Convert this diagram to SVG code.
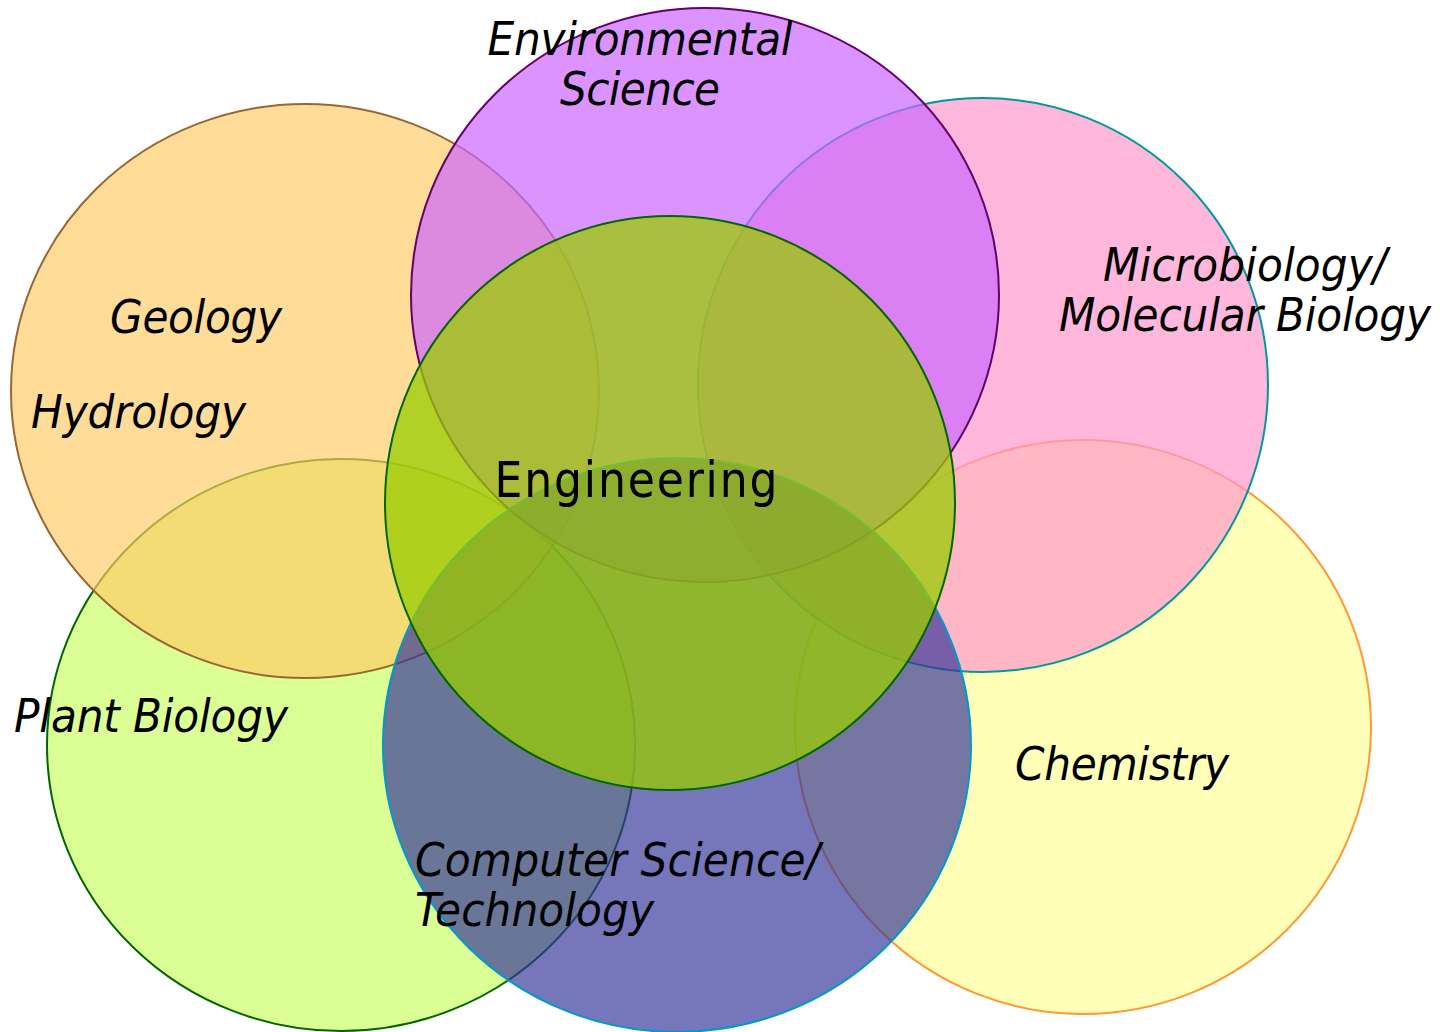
<svg xmlns="http://www.w3.org/2000/svg" width="1449" height="1032" viewBox="0 0 1449 1032">
  <style>
    .set { stroke-width: 2; }
    .lbl { font-family: "DejaVu Sans Condensed", "DejaVu Sans", sans-serif; font-stretch: condensed; font-style: italic; font-size: 47px; fill: #000; }
    .core { font-family: "DejaVu Sans Condensed", "DejaVu Sans", sans-serif; font-stretch: condensed; font-size: 49px; fill: #000; }
  </style>
  <rect width="1449" height="1032" fill="#ffffff"/>

  <!-- overlapping subject areas, back to front -->
  <g id="plant-biology">
    <ellipse class="set" cx="341" cy="745" rx="294" ry="286" fill="#CCFF66" fill-opacity="0.7" stroke="#006600"/>
  </g>
  <g id="geology-hydrology">
    <ellipse class="set" cx="305" cy="391" rx="294" ry="287" fill="#FFCC66" fill-opacity="0.68" stroke="#996633"/>
  </g>
  <g id="chemistry">
    <ellipse class="set" cx="1083" cy="727" rx="288" ry="287" fill="#FFFF99" fill-opacity="0.7" stroke="#FF9933"/>
  </g>
  <g id="microbiology">
    <ellipse class="set" cx="983" cy="385" rx="285" ry="287" fill="#FF99CC" fill-opacity="0.7" stroke="#009999"/>
  </g>
  <g id="environmental-science">
    <ellipse class="set" cx="705" cy="295" rx="294" ry="287" fill="#CC66FF" fill-opacity="0.7" stroke="#660066"/>
  </g>
  <g id="computer-science">
    <ellipse class="set" cx="677" cy="745" rx="294" ry="287" fill="#333399" fill-opacity="0.67" stroke="#0099CC"/>
  </g>
  <g id="engineering">
    <ellipse class="set" cx="670" cy="503" rx="285" ry="287" fill="#99CC00" fill-opacity="0.75" stroke="#006600"/>
  </g>

  <g id="connectors"/>

  <!-- labels -->
  <g id="labels">
    <text class="lbl" x="640" y="55" text-anchor="middle" textLength="305" lengthAdjust="spacing">Environmental</text>
    <text class="lbl" x="640" y="105" text-anchor="middle" textLength="160" lengthAdjust="spacing">Science</text>
    <text class="lbl" x="110" y="333" textLength="172" lengthAdjust="spacing">Geology</text>
    <text class="lbl" x="31" y="428" textLength="215" lengthAdjust="spacing">Hydrology</text>
    <text class="lbl" x="1245" y="281" text-anchor="middle" textLength="284" lengthAdjust="spacing">Microbiology/</text>
    <text class="lbl" x="1245" y="331" text-anchor="middle" textLength="372" lengthAdjust="spacing">Molecular Biology</text>
    <text class="core" x="636" y="497" text-anchor="middle" textLength="283" lengthAdjust="spacing">Engineering</text>
    <text class="lbl" x="14" y="732" textLength="274" lengthAdjust="spacing">Plant Biology</text>
    <text class="lbl" x="1015" y="780" textLength="214" lengthAdjust="spacing">Chemistry</text>
    <text class="lbl" x="415" y="876" textLength="405" lengthAdjust="spacing">Computer Science/</text>
    <text class="lbl" x="415" y="926" textLength="239" lengthAdjust="spacing">Technology</text>
  </g>
</svg>
